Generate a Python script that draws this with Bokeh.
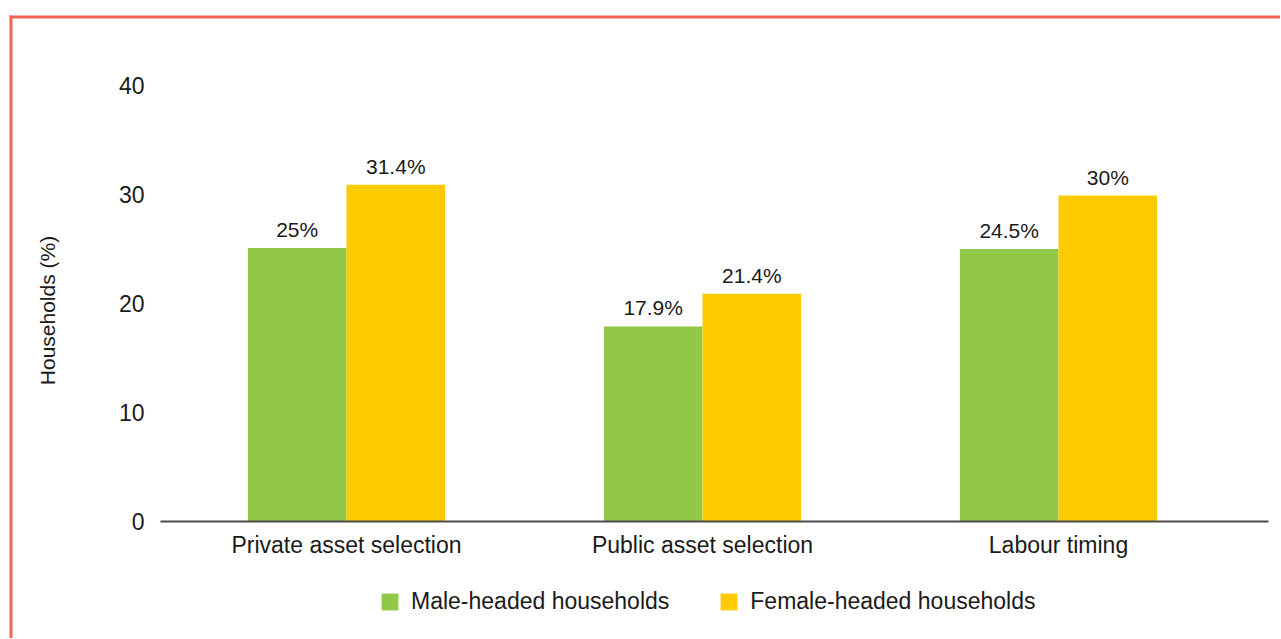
from bokeh.plotting import figure
from bokeh.models import (Range1d, FixedTicker, Legend, LegendItem,
                          ColumnDataSource, LabelSet, BoxAnnotation)
from bokeh.core.properties import value
from bokeh.embed import file_html
from bokeh.resources import INLINE

categories = ["Private asset selection", "Public asset selection", "Labour timing"]
male_values = [25.1, 17.9, 25.0]
female_values = [30.9, 20.9, 29.9]
male_labels = ["25%", "17.9%", "24.5%"]
female_labels = ["31.4%", "21.4%", "30%"]
y_ticks = [0, 10, 20, 30, 40]
series_names = ["Male-headed households", "Female-headed households"]

FONT = "Liberation Sans"
GREEN = "#92C848"
YELLOW = "#FDCB00"
TEXT = "#1A1A1A"
BORDER = "#F26552"
BAR_W = 0.277
W, H = 1280, 638

xs = list(range(len(categories)))
src_m = ColumnDataSource(dict(x=[i - BAR_W / 2 for i in xs], y=male_values, lab=male_labels))
src_f = ColumnDataSource(dict(x=[i + BAR_W / 2 for i in xs], y=female_values, lab=female_labels))

# the frame fills the whole canvas; axes are pinned inside it
X0, X1 = -0.9719, 2.6236
Y0, Y1 = -10.734, 47.798
AX_LEFT, AX_RIGHT = -0.5225, 2.59

p = figure(width=W, height=H, output_backend="svg", toolbar_location=None,
           x_range=Range1d(X0, X1), y_range=Range1d(Y0, Y1),
           min_border=0, min_border_left=0, min_border_right=0,
           min_border_top=0, min_border_bottom=0)
p.outline_line_color = None
p.grid.grid_line_color = None
p.background_fill_color = "white"
p.border_fill_color = "white"

r_m = p.vbar(x="x", top="y", width=BAR_W, source=src_m, fill_color=GREEN, line_color=None)
r_f = p.vbar(x="x", top="y", width=BAR_W, source=src_f, fill_color=YELLOW, line_color=None)

for src in (src_m, src_f):
    p.add_layout(LabelSet(x="x", y="y", text="lab", source=src, y_offset=7,
                          text_align="center", text_baseline="bottom",
                          text_font=value(FONT), text_font_size="21px",
                          text_color=TEXT))

# decorative frame border (top and left edges) in canvas pixels
p.add_layout(BoxAnnotation(left=9, right=W, top=15, bottom=18,
                           left_units="canvas", right_units="canvas",
                           top_units="canvas", bottom_units="canvas",
                           fill_color=BORDER, fill_alpha=1, line_color=None,
                           level="overlay"))
p.add_layout(BoxAnnotation(left=9, right=12, top=15, bottom=H,
                           left_units="canvas", right_units="canvas",
                           top_units="canvas", bottom_units="canvas",
                           fill_color=BORDER, fill_alpha=1, line_color=None,
                           level="overlay"))

# y axis
ya = p.yaxis[0]
ya.fixed_location = AX_LEFT
ya.bounds = (-1.3, 40)
ya.ticker = FixedTicker(ticks=y_ticks)
ya.axis_line_color = None
ya.major_tick_line_color = None
ya.minor_tick_line_color = None
ya.major_label_standoff = 10
ya.major_label_text_font = FONT
ya.major_label_text_font_size = "23px"
ya.major_label_text_color = TEXT
ya.axis_label = "Households (%)"
ya.axis_label_text_font = FONT
ya.axis_label_text_font_size = "21px"
ya.axis_label_text_font_style = "normal"
ya.axis_label_text_color = TEXT
ya.axis_label_standoff = 57

# x axis
xa = p.xaxis[0]
xa.fixed_location = 0
xa.bounds = (AX_LEFT, AX_RIGHT)
xa.ticker = FixedTicker(ticks=xs)
xa.major_label_overrides = {i: c for i, c in zip(xs, categories)}
xa.axis_line_color = "#4D4D4D"
xa.axis_line_width = 2
xa.major_tick_line_color = None
xa.minor_tick_line_color = None
xa.major_label_standoff = 5
xa.major_label_text_font = FONT
xa.major_label_text_font_size = "23px"
xa.major_label_text_color = TEXT

legend = Legend(items=[LegendItem(label=series_names[0], renderers=[r_m]),
                       LegendItem(label=series_names[1], renderers=[r_f])],
                orientation="horizontal", location=(379, 23),
                glyph_width=21, glyph_height=21, label_standoff=11, spacing=49,
                label_text_font=FONT, label_text_font_size="23px",
                label_text_color=TEXT, border_line_color=None,
                background_fill_alpha=0, padding=0, margin=0)
p.add_layout(legend, "center")

open("out.html", "w").write(file_html(p, INLINE))
